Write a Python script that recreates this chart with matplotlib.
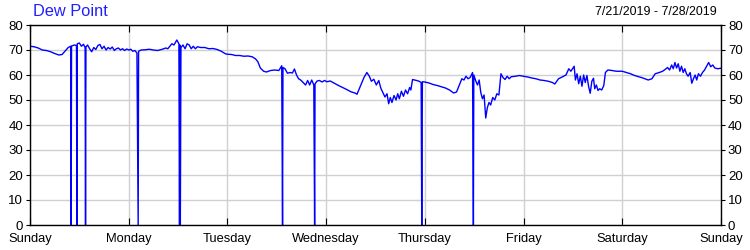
#!/usr/bin/env python3
"""Dew point over one week (7/21/2019 - 7/28/2019)."""

import matplotlib

matplotlib.use("Agg")
import matplotlib.pyplot as plt

# hours since Sunday 00:00, dew point readings (0 = sensor dropout)
hours = [
    0, 1, 2, 3, 4, 5, 6, 7, 7.8, 8.5, 9.3, 9.9, 10.0, 10.1, 10.8, 11.3, 11.4,
    11.5, 12.0, 12.5, 13.0, 13.4, 13.5, 13.6, 14.0, 14.5, 15.0, 15.5, 16.0,
    16.5, 17.0, 17.5, 18.0, 18.5, 19.0, 19.5, 20.0, 20.5, 21.0, 21.5, 22.0,
    22.5, 23.0, 23.5, 24.0, 24.5, 25.0, 25.5, 26.0, 26.3, 26.4, 27, 28, 29,
    30, 31, 32, 33, 33.5, 34, 34.5, 35, 35.7, 36.2, 36.35, 36.45, 36.55,
    36.7, 37.2, 37.7, 38.2, 38.7, 39.2, 39.7, 40.2, 40.7, 41.5, 42.5, 43.5,
    44.5, 45.5, 46.5, 47.5, 48.0, 49, 50, 51, 52, 53, 54, 54.8, 55.4, 56.0,
    56.8, 57.5, 58.5, 59.5, 60.5, 61.2, 61.4, 61.5, 62.0, 62.6, 63.2, 63.8,
    64.3, 64.8, 65.3, 65.8, 66.4, 67.0, 67.5, 68.0, 68.5, 69.0, 69.2, 69.3,
    69.8, 70.4, 71.0, 71.6, 72.2, 73.0, 74.0, 75, 76, 77, 78, 79, 79.5,
    80.3, 81.2, 81.9, 82.5, 83.0, 83.6, 84.2, 84.8, 85.3, 85.8, 86.3, 86.8,
    87.2, 87.6, 88.0, 88.5, 89.0, 89.4, 89.8, 90.3, 90.8, 91.3, 91.8, 92.3,
    92.6, 93.0, 93.5, 94.0, 94.6, 95.1, 95.25, 95.4, 96.0, 97, 98, 99, 100,
    101, 102, 103, 103.7, 104.5, 105.0, 105.5, 106.0, 106.5, 107.0, 107.6,
    107.8, 107.9, 108.4, 108.8, 109.2, 109.6, 110.0, 110.4, 110.8, 111.2,
    111.6, 112.0, 112.5, 113.0, 113.5, 114.0, 114.5, 115.0, 115.5, 116.0,
    116.5, 117.0, 118, 119, 120, 121, 122, 123, 124, 125, 126, 127, 127.6,
    128.5, 129.5, 130.3, 131.0, 131.5, 132.0, 132.3, 132.6, 133.0, 133.4,
    133.8, 134.2, 134.6, 135.0, 135.4, 135.8, 136.2, 136.6, 137.0, 137.3,
    137.7, 138.1, 138.5, 139.0, 139.5, 139.9, 140.5, 141.5, 142.5, 144, 145,
    146, 147, 148, 149, 150.3, 151.2, 152, 153, 153.8, 154.5, 155.0, 155.5,
    156.0, 156.4, 156.8, 157.2, 157.6, 158.0, 158.4, 158.8, 159.2, 159.6,
    160.0, 160.5, 160.9, 161.3, 161.7, 162.1, 162.5, 163.0, 163.5, 164.0,
    164.5, 165.0, 165.5, 166.0, 166.5, 167.2, 168,
]
dew_point = [
    71.5, 71.3, 70.8, 70.0, 69.8, 69.3, 68.6, 68.0, 68.2, 69.5, 71.0, 71.5, 0, 71.6, 72.0, 71.8, 0,
    72.5, 72.8, 71.5, 72.3, 71.0, 0, 71.2, 72.0, 70.5, 69.3, 71.0, 70.2,
    71.8, 72.2, 70.5, 71.5, 70.0, 71.0, 70.4, 71.2, 69.8, 70.5, 70.8, 70.0,
    70.5, 69.8, 70.4, 70.0, 70.3, 69.5, 69.8, 68.8, 0, 69.5, 70.0, 70.1, 70.3,
    70.0, 69.8, 70.2, 70.8, 70.5, 71.5, 72.5, 72.0, 74.0, 72.5, 0, 72.0, 0,
    71.0, 72.0, 70.5, 72.5, 72.0, 70.5, 71.5, 70.5, 71.3, 71.0, 71.0, 70.5,
    70.6, 70.2, 69.5, 68.5, 68.3, 68.2, 67.8, 67.8, 67.5, 67.6, 67.3, 66.5, 65.3, 62.8,
    61.5, 61.2, 61.8, 62.0, 61.8, 63.7, 0, 63.0, 62.5, 60.7, 61.0, 60.8,
    62.4, 60.0, 58.5, 58.0, 57.0, 56.0, 57.8, 56.0, 58.0, 56.0, 0, 56.5,
    57.6, 57.8, 57.2, 57.8, 57.3, 57.6, 56.7, 55.8, 55.0, 54.2, 53.3, 52.8, 52.3,
    55.5, 59.0, 61.0, 59.5, 57.5, 58.3, 56.0, 57.8, 54.7, 53.0, 51.2, 52.5,
    48.5, 51.0, 49.0, 51.8, 50.0, 52.5, 50.5, 53.5, 51.5, 54.0, 52.5, 55.0,
    54.0, 58.2, 58.0, 57.8, 57.5, 57.0, 0, 57.3, 57.2, 56.8, 56.2, 55.8, 55.3,
    54.8, 54.0, 52.8, 53.2, 56.5, 58.5, 58.0, 59.5, 58.5, 59.0, 61.0,
    0, 60.0, 57.5, 56.0, 58.0, 53.0, 50.5, 52.0, 42.8, 47.0,
    49.0, 48.0, 51.0, 50.0, 52.5, 52.0, 60.5, 59.0, 58.2, 59.5,
    58.5, 59.3, 59.5, 59.8, 59.5, 59.2, 58.8, 58.5, 58.0, 57.8, 57.5, 57.0, 56.4,
    58.5, 59.3, 60.0, 62.5, 61.5, 62.8, 63.5, 58.0, 60.5, 56.5,
    59.5, 55.5, 60.0, 57.0, 59.8, 55.5, 52.7, 57.5, 58.7, 54.5,
    56.0, 53.8, 54.5, 54.0, 55.8, 61.0, 62.0, 61.8, 61.5, 61.5, 61.0,
    60.5, 59.8, 59.3, 58.8, 58.0, 58.5, 60.5, 61.0, 61.5, 62.3, 63.0, 62.0,
    64.0, 62.5, 65.0, 62.8, 64.5, 61.5, 63.5, 61.0, 62.5, 60.5,
    59.5, 61.0, 56.7, 58.5, 60.0, 58.0, 60.5, 59.5, 61.0, 62.0,
    63.5, 65.0, 63.3, 64.0, 62.8, 62.5, 62.7,
]
day_labels = ["Sunday", "Monday", "Tuesday", "Wednesday", "Thursday",
              "Friday", "Saturday", "Sunday"]
y_ticks = [0, 10, 20, 30, 40, 50, 60, 70, 80]

plt.rcParams["font.family"] = ["Liberation Sans", "DejaVu Sans"]

fig = plt.figure(figsize=(7.5, 2.5), dpi=100)
ax = fig.add_axes([30 / 750, 25 / 250, 691 / 750, 200 / 250])

ax.plot(hours, dew_point, color="#0000ff", linewidth=1.0)

ax.set_xlim(0, 168)
ax.set_ylim(0, 80)
ax.set_xticks([24 * i for i in range(len(day_labels))])
ax.set_xticklabels(day_labels)
ax.set_yticks(y_ticks)
ax.grid(True, color="#d0d0d0", linewidth=1.0)
ax.set_axisbelow(True)

ax.tick_params(axis="x", direction="in", length=5, top=True, labelsize=9.3,
               pad=6, color="black")
ax.tick_params(axis="y", which="both", labelsize=9.5, right=True,
               labelright=True, pad=2)
ax.tick_params(axis="y", left=True, direction="out", length=3)
for spine in ax.spines.values():
    spine.set_color("black")
    spine.set_linewidth(1.0)

fig.text(33 / 750, 1 - 12 / 250, "Dew Point", color="#2020ff",
         fontsize=11.8, va="center", ha="left")
fig.text(717 / 750, 1 - 12 / 250, "7/21/2019 - 7/28/2019", color="black",
         fontsize=8.9, va="center", ha="right")

fig.savefig("out.png", dpi=100)
